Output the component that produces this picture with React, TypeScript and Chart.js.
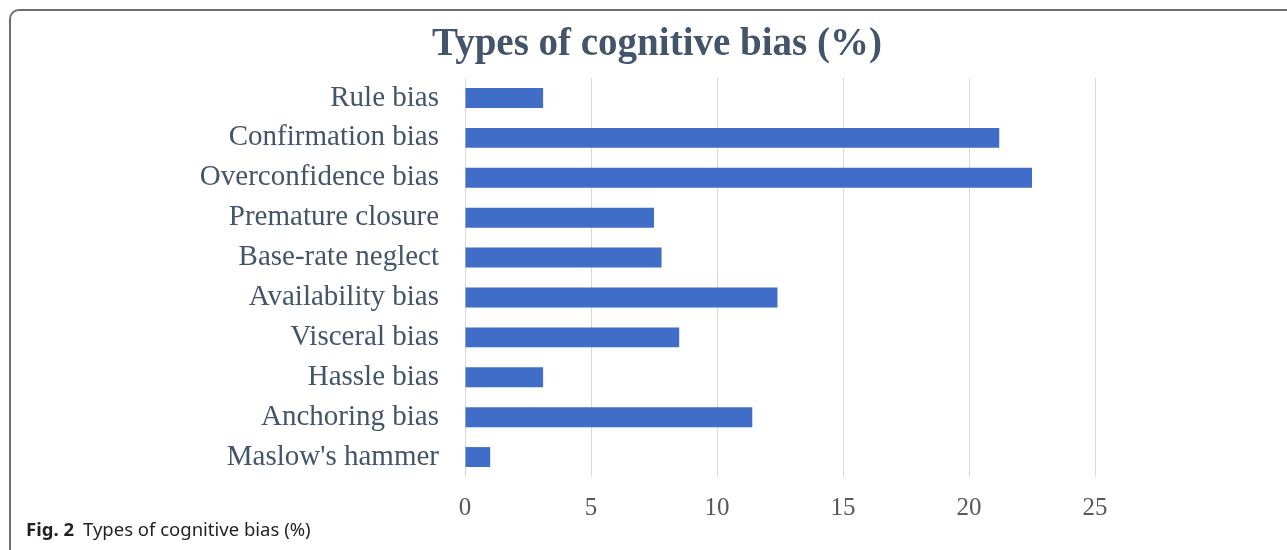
import React, { useEffect, useRef } from "react";
import { Chart, registerables } from "chart.js";

Chart.register(...registerables);

const categories = [
  "Rule bias",
  "Confirmation bias",
  "Overconfidence bias",
  "Premature closure",
  "Base-rate neglect",
  "Availability bias",
  "Visceral bias",
  "Hassle bias",
  "Anchoring bias",
  "Maslow's hammer",
];
const values = [3.1, 21.2, 22.5, 7.5, 7.8, 12.4, 8.5, 3.1, 11.4, 1.0];
const xTicks = [0, 5, 10, 15, 20, 25];
const titleText = "Types of cognitive bias (%)";
const captionLabel = "Fig. 2";
const captionText = "Types of cognitive bias (%)";

export default function App() {
  const ref = useRef<HTMLCanvasElement | null>(null);
  useEffect(() => {
    if (!ref.current) return;
    const chart = new Chart(ref.current, {
      type: "bar",
      data: {
        labels: categories,
        datasets: [
          {
            data: values,
            backgroundColor: "#3F6DC7",
            borderWidth: 0,
            barPercentage: 0.5,
            categoryPercentage: 1,
          },
        ],
      },
      options: {
        indexAxis: "y",
        responsive: false,
        animation: false,
        devicePixelRatio: 1,
        layout: { padding: { left: 150, right: 192, top: 78, bottom: 0 } },
        plugins: {
          legend: { display: false },
          tooltip: { enabled: false },
          title: { display: false },
        },
        scales: {
          x: {
            min: 0,
            max: 25,
            afterFit: (s: any) => {
              s.height = 53;
            },
            afterBuildTicks: (s: any) => {
              s.ticks = xTicks.map((v) => ({ value: v }));
            },
            grid: { color: "#D9D9D9", lineWidth: 1, drawTicks: false },
            border: { display: false },
            ticks: {
              padding: 16,
              color: "#595959",
              font: { family: "'Liberation Serif', 'Times New Roman', serif", size: 25 },
            },
          },
          y: {
            afterFit: (s: any) => {
              s.width = 315;
            },
            grid: { display: false, drawTicks: false },
            border: { display: false },
            ticks: {
              padding: 26,
              color: "#44546A",
              font: { family: "'Liberation Serif', 'Times New Roman', serif", size: 29 },
            },
          },
        },
      },
    });
    return () => chart.destroy();
  }, []);

  return (
    <div
      style={{
        position: "fixed",
        left: 0,
        top: 0,
        width: 1287,
        height: 550,
        overflow: "hidden",
        background: "#fff",
      }}
    >
      <div
        style={{
          position: "absolute",
          left: 9,
          top: 9,
          width: 1300,
          height: 600,
          border: "2px solid #6E6E6E",
          borderTopLeftRadius: 10,
          boxSizing: "border-box",
        }}
      />
      <canvas
        ref={ref}
        width={1287}
        height={530}
        style={{ position: "absolute", left: 0, top: 0, width: 1287, height: 530 }}
      />
      <div
        style={{
          position: "absolute",
          left: 457,
          width: 400,
          top: 19,
          textAlign: "center",
          fontFamily: "'Liberation Serif', 'Times New Roman', serif",
          fontWeight: "bold",
          fontSize: 39,
          lineHeight: "46px",
          color: "#44546A",
          whiteSpace: "nowrap",
          display: "flex",
          justifyContent: "center",
        }}
      >
        {titleText}
      </div>
      <div
        style={{
          position: "absolute",
          left: 26,
          top: 518,
          fontFamily: "'Noto Sans', 'Open Sans', sans-serif",
          fontSize: 18.5,
          lineHeight: "22px",
          color: "#231F20",
          whiteSpace: "nowrap",
        }}
      >
        <span style={{ fontWeight: "bold" }}>{captionLabel}</span>
        <span style={{ marginLeft: 9 }}>{captionText}</span>
      </div>
    </div>
  );
}
